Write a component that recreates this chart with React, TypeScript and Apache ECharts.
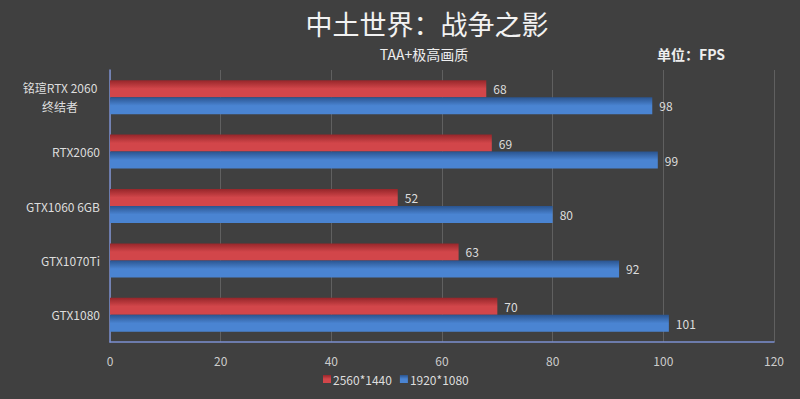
import React, { useEffect, useRef } from "react";
import * as echarts from "echarts";

const categories = ["铭瑄RTX 2060\n终结者", "RTX2060", "GTX1060 6GB", "GTX1070Ti", "GTX1080"];
const series1440 = [68, 69, 52, 63, 70];
const series1080 = [98, 99, 80, 92, 101];
const xTicks = { min: 0, max: 120, interval: 20 };

export default function App() {
  const ref = useRef<HTMLDivElement>(null);
  useEffect(() => {
    const chart = echarts.init(ref.current!, null, { renderer: "svg" });
    const grad = (top: string, bottom: string) =>
      new echarts.graphic.LinearGradient(0, 0, 0, 1, [
        { offset: 0, color: top },
        { offset: 0.5, color: bottom },
        { offset: 1, color: bottom },
      ]);
    chart.setOption({
      animation: false,
      backgroundColor: "#404040",
      title: [
        {
          text: "中土世界：战争之影",
          left: 422,
          textAlign: "center",
          top: 5,
          textStyle: { color: "#f2f2f2", fontSize: 27, fontWeight: "normal", fontFamily: "Noto Sans CJK SC" },
        },
        {
          text: "TAA+极高画质",
          left: 419,
          textAlign: "center",
          top: 42,
          textStyle: { color: "#eeeeee", fontSize: 14, fontWeight: "normal", fontFamily: "Noto Sans CJK SC" },
        },
        {
          text: "单位：FPS",
          left: 652,
          top: 42,
          textStyle: { color: "#eeeeee", fontSize: 14, fontWeight: "bold", fontFamily: "Noto Sans CJK SC" },
        },
      ],
      legend: {
        bottom: 9,
        left: 318,
        itemWidth: 8,
        itemHeight: 8,
        itemGap: 8,
        icon: "rect",
        textStyle: { color: "#dddddd", fontSize: 12, fontFamily: "Noto Sans CJK SC", padding: [0, 0, 0, -3] },
        data: ["2560*1440", "1920*1080"],
      },
      grid: { left: 110, right: 26, top: 70, bottom: 57, containLabel: false },
      xAxis: {
        type: "value",
        min: xTicks.min,
        max: xTicks.max,
        interval: xTicks.interval,
        axisLine: { show: true, lineStyle: { color: "#7b8fcf", width: 1.5 } },
        axisTick: { show: false },
        splitLine: { show: true, lineStyle: { color: "#606060", width: 1 } },
        axisLabel: { color: "#cccccc", fontSize: 12, margin: 12, fontFamily: "Noto Sans CJK SC" },
      },
      yAxis: {
        type: "category",
        inverse: true,
        data: categories,
        axisLine: { show: true, lineStyle: { color: "#7b8fcf", width: 1.5 } },
        axisTick: { show: false },
        axisLabel: {
          color: "#dddddd",
          fontSize: 12,
          margin: 10,
          fontFamily: "Noto Sans CJK SC",
          formatter: (v: string) =>
            v.indexOf("\n") >= 0
              ? v.split("\n").map((s) => "{c|" + s + "}").join("\n")
              : v,
          rich: {
            c: { width: 80, align: "center", lineHeight: 19, color: "#dddddd", fontSize: 12, fontFamily: "Noto Sans CJK SC" },
          },
        },
      },
      series: [
        {
          name: "2560*1440",
          type: "bar",
          data: series1440,
          barWidth: 17,
          barGap: "0%",
          itemStyle: { color: grad("#96262a", "#d2464a") },
          label: { show: true, position: "right", distance: 7, color: "#dddddd", fontSize: 12, fontFamily: "Noto Sans CJK SC" },
        },
        {
          name: "1920*1080",
          type: "bar",
          data: series1080,
          barWidth: 17,
          barGap: "0%",
          itemStyle: { color: grad("#2a548f", "#4a84d2") },
          label: { show: true, position: "right", distance: 7, color: "#dddddd", fontSize: 12, fontFamily: "Noto Sans CJK SC" },
        },
      ],
    });
    return () => chart.dispose();
  }, []);
  return <div ref={ref} style={{ width: 800, height: 399, position: "fixed", left: 0, top: 0 }} />;
}
